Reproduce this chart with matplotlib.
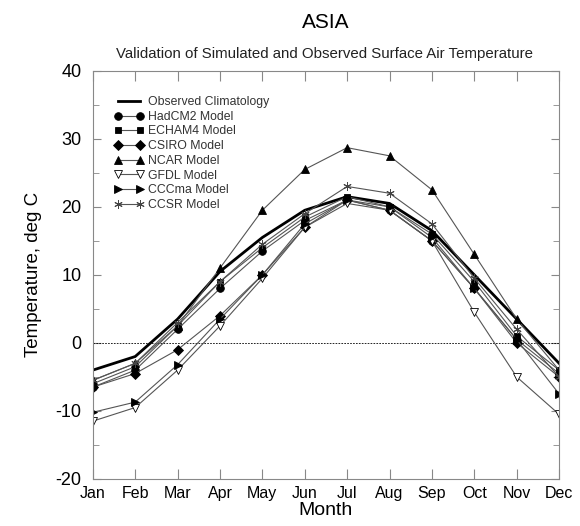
import matplotlib.pyplot as plt
import numpy as np
from matplotlib.ticker import MultipleLocator

plt.rcParams['font.family'] = ['Liberation Sans', 'DejaVu Sans']
plt.rcParams['axes.unicode_minus'] = False

months = ["Jan", "Feb", "Mar", "Apr", "May", "Jun", "Jul", "Aug", "Sep", "Oct", "Nov", "Dec"]

# Monthly surface air temperature, deg C
observed = [-4.0, -2.0, 3.5, 10.5, 15.5, 19.5, 21.5, 20.5, 16.5, 10.0, 3.5, -3.0]
hadcm2 = [-6.5, -4.0, 2.0, 8.0, 13.5, 18.0, 21.0, 19.5, 15.0, 8.0, 0.5, -4.5]
echam4 = [-6.0, -3.5, 2.5, 9.0, 14.0, 18.5, 21.5, 20.0, 16.0, 9.0, 1.0, -4.0]
csiro = [-6.5, -4.5, -1.0, 4.0, 10.0, 17.0, 21.0, 19.5, 15.0, 8.0, 0.0, -5.0]
ncar = [-5.5, -3.0, 2.5, 11.0, 19.5, 25.5, 28.7, 27.5, 22.5, 13.0, 3.5, -4.0]
gfdl = [-11.5, -9.5, -4.0, 2.5, 9.5, 17.0, 20.5, 19.5, 15.0, 4.5, -5.0, -10.5]
cccma = [-10.2, -8.7, -3.2, 3.5, 10.0, 17.5, 21.0, 20.0, 15.5, 8.0, 0.5, -7.5]
ccsr = [-5.5, -3.0, 3.0, 9.0, 14.5, 19.0, 23.0, 22.0, 17.5, 9.5, 2.0, -5.0]

x = np.arange(len(months))

fig = plt.figure(figsize=(5.8, 5.26), dpi=100)
ax = fig.add_axes([0.160, 0.0894, 0.804, 0.776])

ax.axhline(0, color='black', linestyle=(0, (2, 1.5)), linewidth=0.6)

ax.plot(x, observed, color='black', linewidth=2.0, label="Observed Climatology")
models = [
    (hadcm2, 'o', 'black', 5.5, "HadCM2 Model"),
    (echam4, 's', 'black', 5, "ECHAM4 Model"),
    (csiro, 'D', 'black', 5, "CSIRO Model"),
    (ncar, '^', 'black', 5.5, "NCAR Model"),
    (gfdl, 'v', 'white', 6, "GFDL Model"),
    (cccma, '>', 'black', 5.5, "CCCma Model"),
    (ccsr, '*', 'white', 6, "CCSR Model"),
]
for vals, mk, fc, ms, lab in models:
    if mk == '*':
        ax.plot(x, vals, color='#555555', linewidth=0.8, marker=(6, 2, 0), markersize=ms,
                markeredgecolor='#444444', markeredgewidth=0.7, label=lab)
    else:
        ax.plot(x, vals, color='#555555', linewidth=0.8, marker=mk, markersize=ms,
                markerfacecolor=fc, markeredgecolor='black', markeredgewidth=0.6, label=lab)

ax.set_xlim(0, 11)
ax.set_ylim(-20, 40)
ax.set_xticks(x)
ax.set_xticklabels(months, fontsize=11.5)
ax.yaxis.set_major_locator(MultipleLocator(10))
ax.yaxis.set_minor_locator(MultipleLocator(5))
ax.tick_params(axis='both', which='both', direction='in', top=True, right=True,
               color='#888888')
ax.tick_params(axis='y', which='major', labelsize=13, length=6, pad=8)
ax.tick_params(axis='y', which='minor', length=4)
ax.tick_params(axis='x', length=7, pad=5)
for sp in ax.spines.values():
    sp.set_color('#888888')
    sp.set_linewidth(0.8)

ax.set_xlabel("Month", fontsize=14, labelpad=1)
ax.set_ylabel("Temperature, deg C", fontsize=13.5, labelpad=10)

fig.text(0.562, 0.958, "ASIA", ha='center', va='center', fontsize=15)
fig.text(0.560, 0.897, "Validation of Simulated and Observed Surface Air Temperature",
         ha='center', va='center', fontsize=10.8, color='#222222')

leg = ax.legend(loc='upper left', bbox_to_anchor=(0.035, 0.95), frameon=False,
                fontsize=8.8, numpoints=2, handlelength=2.4, handletextpad=0.35,
                labelspacing=0.22, borderaxespad=0)
for t in leg.get_texts():
    t.set_color('#333333')

fig.savefig("out.png", dpi=100)
